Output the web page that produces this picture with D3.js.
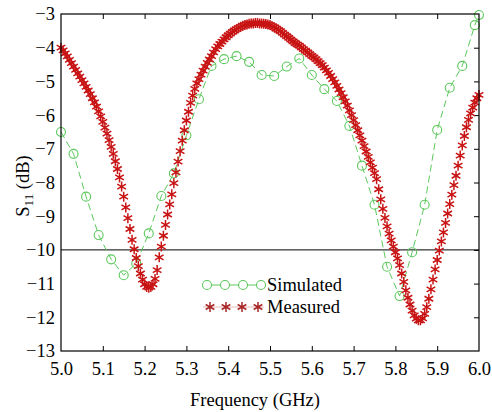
<!DOCTYPE html>
<html>
<head>
<meta charset="utf-8">
<script src="https://cdn.jsdelivr.net/npm/d3@7"></script>
<style>
  body { margin: 0; background: #fff; }
</style>
</head>
<body>
<div id="chart"></div>
<script>
// simulated S11 (circles, every 0.03 GHz)
const simFreq = [5.00, 5.03, 5.06, 5.09, 5.12, 5.15, 5.18, 5.21, 5.24, 5.27,
                 5.30, 5.33, 5.36, 5.39, 5.42, 5.45, 5.48, 5.51, 5.54, 5.57,
                 5.60, 5.63, 5.66, 5.69, 5.72, 5.75, 5.78, 5.81, 5.84, 5.87,
                 5.90, 5.93, 5.96, 5.99, 6.00];
const simS11 = [-6.50, -7.15, -8.42, -9.56, -10.28, -10.75, -10.40, -9.51, -8.40, -7.73,
                -6.60, -5.53, -4.54, -4.34, -4.25, -4.42, -4.81, -4.84, -4.56, -4.32,
                -4.81, -5.23, -5.58, -6.32, -7.50, -8.66, -10.50, -11.37, -10.07, -8.66,
                -6.44, -5.19, -4.54, -3.33, -3.03];

// measured S11, sampled from 5.0 GHz every 5 MHz
const measStart = 5.0;
const measStep = 0.005;
const measS11 = [
  -4.00, -4.08, -4.17, -4.26, -4.36, -4.46, -4.56, -4.66, -4.76, -4.86,
  -4.96, -5.06, -5.16, -5.27, -5.38, -5.50, -5.62, -5.75, -5.89, -6.04,
  -6.20, -6.37, -6.55, -6.74, -6.94, -7.15, -7.37, -7.60, -7.85, -8.12,
  -8.42, -8.74, -9.06, -9.38, -9.70, -9.98, -10.24, -10.48, -10.70, -10.88,
  -11.02,
  -11.10, -11.12, -11.10, -11.02, -10.86, -10.60, -10.22, -9.90, -9.58, -9.26,
  -8.95, -8.65, -8.35, -8.02, -7.70, -7.38, -7.07, -6.76, -6.45, -6.16,
  -5.90, -5.64, -5.42, -5.22, -5.06, -4.93, -4.80, -4.68, -4.56, -4.45,
  -4.35, -4.25, -4.14, -4.04, -3.96, -3.89, -3.82, -3.75, -3.69, -3.63,
  -3.58, -3.53, -3.49, -3.45, -3.41, -3.38, -3.35, -3.33, -3.31, -3.29,
  -3.28, -3.28, -3.27, -3.27, -3.28, -3.28, -3.29, -3.30, -3.31, -3.33,
  -3.36, -3.39, -3.43, -3.47, -3.51, -3.56, -3.61, -3.66, -3.71, -3.76,
  -3.81, -3.86, -3.90, -3.94, -3.99, -4.04, -4.09, -4.14, -4.19, -4.24,
  -4.29, -4.34, -4.40, -4.46, -4.52, -4.59, -4.67, -4.75, -4.84, -4.93,
  -5.03, -5.13, -5.24, -5.35, -5.47, -5.59, -5.72, -5.86, -6.00, -6.15,
  -6.30, -6.45, -6.60, -6.76, -6.92, -7.08, -7.24, -7.40, -7.56, -7.72,
  -7.90, -8.20, -8.50, -8.78, -9.05, -9.30, -9.52, -9.72, -9.90, -10.07,
  -10.25, -10.45, -10.70, -10.95, -11.20, -11.42, -11.62, -11.80, -11.94, -12.04,
  -12.09, -12.09, -12.03, -11.90, -11.70, -11.45, -11.17, -10.88, -10.58, -10.30,
  -10.02, -9.75, -9.48, -9.20, -8.92, -8.64, -8.36, -8.08, -7.80, -7.50,
  -7.20, -6.90, -6.62, -6.36, -6.14, -5.95, -5.78, -5.63, -5.50, -5.40
];

const xTicks = [5.0, 5.1, 5.2, 5.3, 5.4, 5.5, 5.6, 5.7, 5.8, 5.9, 6.0];
const yTicks = [-3, -4, -5, -6, -7, -8, -9, -10, -11, -12, -13];
const refLevel = -10;
const legendLabels = ['Simulated', 'Measured'];

const width = 492;
const height = 412;
const margin = { top: 14, right: 13, bottom: 61, left: 61 };
const w = width - margin.left - margin.right;
const h = height - margin.top - margin.bottom;

const serif = '"Liberation Serif", "Times New Roman", Times, serif';
const fs = '18.5px';
const green = '#5cc85c';
const red = '#c81414';

const svg = d3.select('#chart')
    .append('svg')
    .attr('width', width)
    .attr('height', height)
    .attr('font-family', serif);

const chart = svg.append('g')
    .attr('transform', `translate(${margin.left},${margin.top})`);

const x = d3.scaleLinear().domain([5.0, 6.0]).range([0, w]);
const y = d3.scaleLinear().domain([-13, -3]).range([h, 0]);

const sim = simFreq.map((f, i) => ({ f, v: simS11[i] }));
const meas = measS11.map((v, i) => ({ f: measStart + i * measStep, v }));

function tickText(g) {
  g.attr('font-family', serif);
  g.selectAll('text').style('font-family', serif).style('font-size', fs).attr('fill', '#000');
}

// axes: labels outside left/bottom, inward ticks bottom/top/right
chart.append('g')
    .attr('transform', `translate(0,${h})`)
    .call(d3.axisBottom(x).tickValues(xTicks).tickFormat(d3.format('.1f')).tickSize(-5).tickPadding(11))
    .call(g => g.select('.domain').remove())
    .call(g => g.selectAll('line').filter(d => d === 5.0 || d === 6.0).remove())
    .call(tickText);

chart.append('g')
    .call(d3.axisTop(x).tickValues(xTicks.slice(1, -1)).tickSize(-5).tickFormat(''))
    .call(g => g.select('.domain').remove());

chart.append('g')
    .call(d3.axisLeft(y).tickValues(yTicks).tickSize(0).tickPadding(6))
    .call(g => g.select('.domain').remove())
    .call(tickText);

chart.append('g')
    .attr('transform', `translate(${w},0)`)
    .call(d3.axisRight(y).tickValues(yTicks.slice(1, -1)).tickSize(-5).tickFormat(''))
    .call(g => g.select('.domain').remove());

chart.selectAll('.tick line').attr('stroke', '#000');

// -10 dB reference
chart.append('line')
    .attr('x1', 0).attr('x2', w)
    .attr('y1', y(refLevel)).attr('y2', y(refLevel))
    .attr('stroke', '#000').attr('stroke-width', 1);

// simulated
const line = d3.line().x(d => x(d.f)).y(d => y(d.v));
chart.append('path')
    .datum(sim)
    .attr('d', line)
    .attr('fill', 'none')
    .attr('stroke', green)
    .attr('stroke-width', 1)
    .attr('stroke-dasharray', '7,4');

chart.selectAll('.sim')
    .data(sim)
    .enter()
    .append('circle')
    .classed('sim', true)
    .attr('cx', d => x(d.f))
    .attr('cy', d => y(d.v))
    .attr('r', 4.5)
    .attr('fill', 'none')
    .attr('stroke', green)
    .attr('stroke-width', 1.1);

// measured asterisks
const star = d3.symbol().type(d3.symbolAsterisk).size(70);
function drawStar(sel, c) {
  sel.append('path')
      .attr('d', star)
      .attr('fill', 'none')
      .attr('stroke', c)
      .attr('stroke-width', 1.5);
}

chart.selectAll('.meas')
    .data(meas)
    .enter()
    .append('g')
    .classed('meas', true)
    .attr('transform', d => `translate(${x(d.f)},${y(d.v)})`)
    .call(drawStar, red);

// frame
chart.append('rect')
    .attr('width', w).attr('height', h)
    .attr('fill', 'none')
    .attr('stroke', '#000')
    .attr('stroke-width', 1.2);

// legend
const legend = svg.append('g');
const lx0 = 203, lx1 = 264;
const ySim = 285, yMeas = 307;

legend.append('line')
    .attr('x1', lx0).attr('x2', lx1)
    .attr('y1', ySim).attr('y2', ySim)
    .attr('stroke', green).attr('stroke-width', 1.2);
legend.selectAll('.lsim')
    .data([207, 225, 243, 261])
    .enter()
    .append('circle')
    .attr('cx', d => d).attr('cy', ySim).attr('r', 4.5)
    .attr('fill', '#fff').attr('stroke', green).attr('stroke-width', 1.1);

legend.append('line')
    .attr('x1', lx0).attr('x2', lx1)
    .attr('y1', yMeas).attr('y2', yMeas)
    .attr('stroke', '#e6b8b8').attr('stroke-width', 1);
legend.selectAll('.lmeas')
    .data([210, 226, 242, 258])
    .enter()
    .append('g')
    .attr('transform', d => `translate(${d},${yMeas})`)
    .call(drawStar, '#a82828');

legend.selectAll('.ltext')
    .data(legendLabels)
    .enter()
    .append('text')
    .attr('x', 267)
    .attr('y', (d, i) => (i === 0 ? ySim : yMeas) + 6)
    .style('font-family', serif)
    .style('font-size', fs)
    .text(d => d);

// axis titles
svg.append('text')
    .attr('x', 255)
    .attr('y', 406)
    .style('text-anchor', 'middle')
    .style('font-family', serif)
    .style('font-size', fs)
    .text('Frequency (GHz)');

const yl = svg.append('text')
    .attr('transform', `translate(29,${186}) rotate(-90)`)
    .style('text-anchor', 'middle')
    .style('font-family', serif)
    .style('font-size', fs);
yl.append('tspan').text('S');
yl.append('tspan').attr('dy', 4).style('font-size', '13px').text('11');
yl.append('tspan').attr('dy', -4).text(' (dB)');
</script>
</body>
</html>
